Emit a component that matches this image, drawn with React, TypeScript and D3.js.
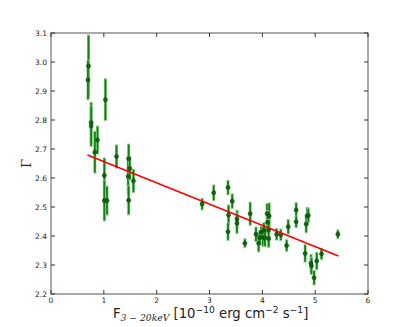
import React from "react";
import * as d3 from "d3";

// flux in 1e-10 erg/cm2/s, photon index and its error
const flux = [0.71, 0.7, 1.03, 0.76, 0.76, 0.88, 0.83, 1.01, 1.01, 1.06, 1.24, 1.47, 1.46, 1.49, 1.47, 1.56,
  2.86, 3.08, 3.35, 3.36, 3.35, 3.43, 3.52, 3.52, 3.67, 3.77, 3.88, 3.93, 3.95, 3.98, 4.01, 4.03, 4.05,
  4.09, 4.13, 4.1, 4.12, 4.12, 4.27, 4.35, 4.49, 4.46, 4.64, 4.64, 4.83, 4.85, 4.87, 4.81, 4.92, 4.93,
  4.98, 5.03, 5.12, 5.43];
const gamma = [2.986, 2.938, 2.87, 2.791, 2.779, 2.731, 2.689, 2.609, 2.522, 2.522, 2.674, 2.667, 2.605, 2.633,
  2.523, 2.59, 2.51, 2.549, 2.567, 2.472, 2.415, 2.52, 2.459, 2.444, 2.375, 2.477, 2.406, 2.375, 2.394, 2.413,
  2.395, 2.421, 2.394, 2.477, 2.469, 2.447, 2.421, 2.391, 2.406, 2.404, 2.432, 2.367, 2.49, 2.449, 2.441,
  2.469, 2.471, 2.34, 2.306, 2.297, 2.256, 2.314, 2.338, 2.406];
const gammaErr = [0.107, 0.068, 0.072, 0.07, 0.07, 0.048, 0.072, 0.06, 0.07, 0.05, 0.04, 0.05, 0.06, 0.04, 0.05,
  0.04, 0.02, 0.027, 0.025, 0.035, 0.03, 0.025, 0.03, 0.035, 0.015, 0.04, 0.025, 0.03, 0.025, 0.02, 0.03,
  0.025, 0.03, 0.035, 0.045, 0.04, 0.035, 0.03, 0.02, 0.02, 0.025, 0.02, 0.025, 0.02, 0.03, 0.03, 0.025,
  0.03, 0.03, 0.03, 0.025, 0.03, 0.02, 0.015];

// linear fit line
const fitX = [0.69, 5.44];
const fitY = [2.679, 2.331];

const xTicks = [0, 1, 2, 3, 4, 5, 6];
const yTicks = [2.2, 2.3, 2.4, 2.5, 2.6, 2.7, 2.8, 2.9, 3.0, 3.1];

const W = 409;
const H = 327;
const margin = { left: 51, right: 41, top: 33, bottom: 33 };

export default function App() {
  const x = d3.scaleLinear().domain([0, 6]).range([margin.left, W - margin.right]);
  const y = d3.scaleLinear().domain([2.2, 3.1]).range([H - margin.bottom, margin.top]);
  const pts = flux.map((f, i) => ({ f, g: gamma[i], e: gammaErr[i] }));
  const line = d3.line<number>().x((d) => x(d)).y((d, i) => y(fitY[i]));
  const tick = 4;
  const font = "DejaVu Sans, sans-serif";
  const x0 = x(0), x1 = x(6), y0 = y(2.2), y1 = y(3.1);

  return (
    <svg width={W} height={H} style={{ position: "absolute", left: 0, top: 0 }}>
      <rect width={W} height={H} fill="#fff" />
      {/* error bars */}
      {pts.map((p, i) => (
        <g key={"e" + i}>
          <line x1={x(p.f)} x2={x(p.f)} y1={y(p.g - p.e)} y2={y(p.g + p.e)} stroke="#8fd08f" strokeWidth={3} />
          <line x1={x(p.f)} x2={x(p.f)} y1={y(p.g - p.e)} y2={y(p.g + p.e)} stroke="#108010" strokeWidth={1.8} />
          <line x1={x(p.f) - 1.5} x2={x(p.f) + 1.5} y1={y(p.g - p.e)} y2={y(p.g - p.e)} stroke="#8fd08f" strokeWidth={1} />
          <line x1={x(p.f) - 1.5} x2={x(p.f) + 1.5} y1={y(p.g + p.e)} y2={y(p.g + p.e)} stroke="#8fd08f" strokeWidth={1} />
        </g>
      ))}
      {pts.map((p, i) => (
        <circle key={"p" + i} cx={x(p.f)} cy={y(p.g)} r={2} fill="#0d6a0d" stroke="#0a3d0a" strokeWidth={0.6} />
      ))}
      <path d={line(fitX) || ""} fill="none" stroke="#ff0000" strokeWidth={1.6} />
      {/* frame */}
      <rect x={x0} y={y1} width={x1 - x0} height={y0 - y1} fill="none" stroke="#555" strokeWidth={1} />
      {xTicks.map((t) => (
        <g key={"xt" + t}>
          <line x1={x(t)} x2={x(t)} y1={y0} y2={y0 - tick} stroke="#333" />
          <line x1={x(t)} x2={x(t)} y1={y1} y2={y1 + tick} stroke="#333" />
          <text x={x(t)} y={y0 + 9} fontSize={7.5} fontFamily={font} textAnchor="middle" fill="#222">{t}</text>
        </g>
      ))}
      {yTicks.map((t) => (
        <g key={"yt" + t}>
          <line x1={x0} x2={x0 + tick} y1={y(t)} y2={y(t)} stroke="#333" />
          <line x1={x1} x2={x1 - tick} y1={y(t)} y2={y(t)} stroke="#333" />
          <text x={x0 - 4} y={y(t) + 2.7} fontSize={7.5} fontFamily={font} textAnchor="end" fill="#222">{t.toFixed(1)}</text>
        </g>
      ))}
      <text transform={`translate(31,${(y0 + y1) / 2}) rotate(-90)`} fontSize={13} fontFamily="DejaVu Serif, serif" textAnchor="middle" fill="#222">Γ</text>
      <text x={113} y={318} fontSize={13.2} fontFamily={font} fill="#222">
        F
        <tspan fontSize={9.2} dy={3} fontFamily="DejaVu Serif, serif" fontStyle="italic">3 − 20keV</tspan>
        <tspan dy={-3}> [10</tspan>
        <tspan fontSize={9.2} dy={-5}>−10</tspan>
        <tspan dy={5}> erg cm</tspan>
        <tspan fontSize={9.2} dy={-5}>−2</tspan>
        <tspan dy={5}> s</tspan>
        <tspan fontSize={9.2} dy={-5}>−1</tspan>
        <tspan dy={5}>]</tspan>
      </text>
    </svg>
  );
}
